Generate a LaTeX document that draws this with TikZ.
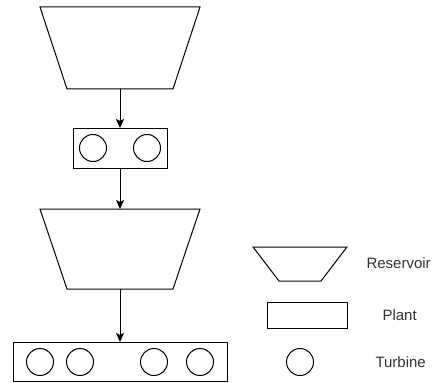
\documentclass[tikz,border=0pt]{standalone}
\usepackage{fontspec}
\setmainfont{Liberation Sans}
\usetikzlibrary{arrows.meta}
\begin{document}
\begin{tikzpicture}[x=1pt,y=-1pt,
  line width=1pt,
  box/.style={rectangle, inner sep=0pt, outer sep=0pt},
  plant/.style={box, draw},
  turbine/.style={circle, draw, inner sep=0pt, outer sep=0pt, minimum size=27pt},
  flow/.style={-{Stealth[length=9pt,width=8pt,inset=2pt]}},
  legtext/.style={inner sep=0pt, anchor=base west, font=\fontsize{15}{18}\selectfont, text=black!80}]
\useasboundingbox (0,0) rectangle (435,382);

% main chain: reservoir -> plant -> reservoir -> plant
\node[box, minimum width=160pt, minimum height=82pt] (r1) at (120,48) {};
\draw (r1.north west) -- (r1.north east) -- ([xshift=-27pt]r1.south east)
      -- ([xshift=27pt]r1.south west) -- cycle;

\node[plant, minimum width=94pt, minimum height=40pt] (p1) at (120,148) {};
\node[turbine] (t1) at (93,148) {};
\node[turbine] (t2) at (147,148) {};

\node[box, minimum width=160pt, minimum height=80pt] (r2) at (120,249) {};
\draw (r2.north west) -- (r2.north east) -- ([xshift=-27pt]r2.south east)
      -- ([xshift=27pt]r2.south west) -- cycle;

\node[plant, minimum width=214pt, minimum height=39pt] (p2) at (120,361.5) {};
\node[turbine] (t3) at (40,362) {};
\node[turbine] (t4) at (80,362) {};
\node[turbine] (t5) at (154,362) {};
\node[turbine] (t6) at (200,362) {};

\draw[flow] (r1.south) -- (p1.north);
\draw[flow] (p1.south) -- (r2.north);
\draw[flow] (r2.south) -- (p2.north);

% legend
\node[box, minimum width=94pt, minimum height=34pt] (lr) at (300,264) {};
\draw (lr.north west) -- (lr.north east) -- ([xshift=-26pt]lr.south east)
      -- ([xshift=26pt]lr.south west) -- cycle;
\node[plant, minimum width=80pt, minimum height=26pt] (lp) at (307,315) {};
\node[turbine] (lt) at (300,362) {};

\node[legtext] (lrt) at (366,268) {Reservoir};
\node[legtext] (lpt) at (382,320) {Plant};
\node[legtext] (ltt) at (375,367) {Turbine};
\end{tikzpicture}
\end{document}
